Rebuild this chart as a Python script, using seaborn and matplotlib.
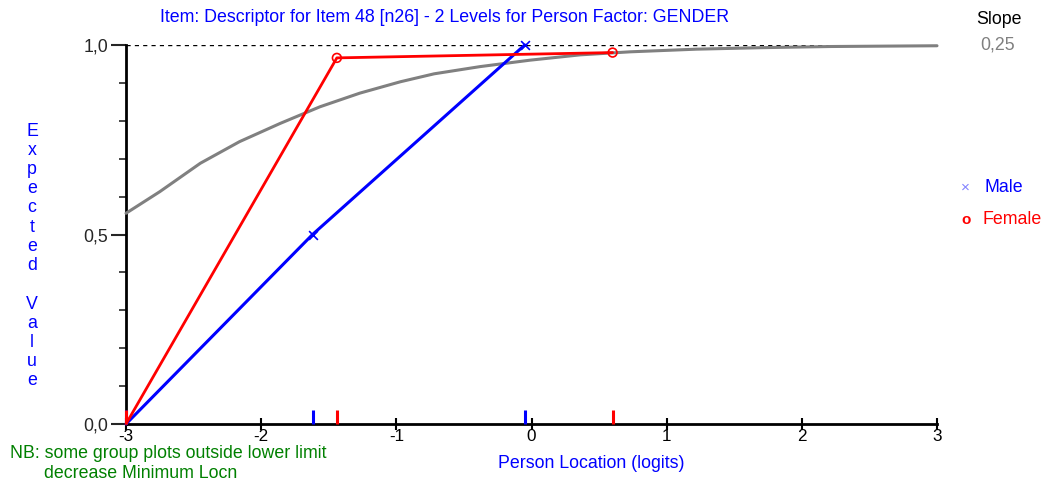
import numpy as np
import pandas as pd
import seaborn as sns
import matplotlib.pyplot as plt

# theoretical curve (grey)
gray_x = [-3.0, -2.75, -2.45, -2.16, -1.86, -1.565, -1.27, -0.97, -0.72,
          -0.38, -0.01, 0.36, 0.73, 1.22, 1.71, 2.21, 2.6, 3.0]
gray_y = [0.556, 0.613, 0.688, 0.745, 0.793, 0.837, 0.873, 0.903, 0.924,
          0.943, 0.960, 0.974, 0.982, 0.989, 0.993, 0.996, 0.997, 0.998]

# group observed means
male_x = [-3.0, -1.62, -0.05]
male_y = [0.0, 0.50, 1.00]
female_x = [-3.0, -1.44, 0.60]
female_y = [0.0, 0.966, 0.980]

# group location ticks on the x axis
male_rug = [-3.0, -1.62, -0.05]
female_rug = [-3.0, -1.44, 0.60]

x_ticks = [-3, -2, -1, 0, 1, 2, 3]
y_ticks = [0.0, 0.5, 1.0]
y_tick_labels = ['0,0', '0,5', '1,0']

BLUE = '#0000ff'
RED = '#ff0000'
GRAY = '#808080'
GREEN = '#008000'
FONT = 'Liberation Sans'
FS = 12.8

sns.set_style('white')
plt.rcParams['font.family'] = [FONT, 'DejaVu Sans']

fig = plt.figure(figsize=(10.46, 4.84), dpi=100)
ax = fig.add_axes([126 / 1046, 60 / 484, 811 / 1046, 379 / 484])

male = pd.DataFrame({'x': male_x, 'y': male_y})
female = pd.DataFrame({'x': female_x, 'y': female_y})
gray = pd.DataFrame({'x': gray_x, 'y': gray_y})

ax.axhline(1.0, color='black', linestyle=(0, (3, 3)), linewidth=1.0, zorder=1)
sns.lineplot(data=gray, x='x', y='y', color=GRAY, linewidth=2.2, sort=False,
             ax=ax, zorder=2, clip_on=False)
sns.lineplot(data=male, x='x', y='y', color=BLUE, linewidth=2.2, sort=False,
             ax=ax, zorder=3, clip_on=False)
sns.lineplot(data=female, x='x', y='y', color=RED, linewidth=2.0, sort=False,
             ax=ax, zorder=4, clip_on=False)
sns.scatterplot(data=male.iloc[1:], x='x', y='y', marker='x', color=BLUE,
                s=40, linewidth=1.2, ax=ax, zorder=5, clip_on=False)
sns.scatterplot(data=female.iloc[1:], x='x', y='y', marker='o', facecolor='none',
                edgecolor=RED, s=40, linewidth=1.2, ax=ax, zorder=5, clip_on=False)

for xv in male_rug:
    ax.plot([xv, xv], [0, 0.037], color=BLUE, linewidth=2.2, zorder=6,
            clip_on=False, solid_capstyle='butt')
for xv in female_rug:
    ax.plot([xv, xv], [0, 0.037], color=RED, linewidth=2.2, zorder=7,
            clip_on=False, solid_capstyle='butt')

ax.set_xlim(-3, 3)
ax.set_ylim(0, 1)
ax.set_xticks(x_ticks)
ax.set_xticklabels([str(t) for t in x_ticks])
ax.set_yticks(y_ticks)
ax.set_yticklabels(y_tick_labels)
ax.set_yticks(np.arange(0.1, 1.0, 0.1), minor=True)
ax.tick_params(axis='x', direction='inout', length=9, width=1.5, colors='black',
               labelsize=FS - 0.5, pad=-1, bottom=True)
ax.tick_params(axis='y', which='major', direction='out', length=11, width=1.5,
               labelsize=FS, pad=2, left=True)
ax.tick_params(axis='y', which='minor', direction='out', length=5, width=1.2,
               left=True)
ax.set_xlabel('')
ax.set_ylabel('')
for side in ['top', 'right']:
    ax.spines[side].set_visible(False)
for side in ['left', 'bottom']:
    ax.spines[side].set_linewidth(2.0)
    ax.spines[side].set_color('black')
    ax.spines[side].set_zorder(1)

fig.text(445 / 1046, 1 - 17 / 484,
         'Item: Descriptor for Item 48 [n26] - 2 Levels for Person Factor: GENDER',
         color=BLUE, fontsize=FS, ha='center', va='center')
fig.text(999 / 1046, 1 - 19 / 484, 'Slope', color='black', fontsize=FS,
         ha='center', va='center')
fig.text(998 / 1046, 1 - 45 / 484, '0,25', color=GRAY, fontsize=FS,
         ha='center', va='center')

fig.text(965 / 1046, 1 - 188 / 484, '\u00d7', color='#8080ff', fontsize=11,
         ha='center', va='center')
fig.text(984 / 1046, 1 - 188 / 484, 'Male', color=BLUE, fontsize=FS,
         ha='left', va='center')
fig.text(966 / 1046, 1 - 220 / 484, 'o', color=RED, fontsize=11,
         fontweight='bold', ha='center', va='center')
fig.text(983 / 1046, 1 - 220 / 484, 'Female', color=RED, fontsize=FS,
         ha='left', va='center')

fig.text(32 / 1046, 1 - 256 / 484, '\n'.join(list('Expected Value')),
         color=BLUE, fontsize=FS, ha='center', va='center', linespacing=1.17)
fig.text(591 / 1046, 1 - 464 / 484, 'Person Location (logits)', color=BLUE,
         fontsize=FS, ha='center', va='center')
fig.text(10 / 1046, 1 - 453 / 484, 'NB: some group plots outside lower limit',
         color=GREEN, fontsize=FS, ha='left', va='center')
fig.text(44 / 1046, 1 - 473 / 484, 'decrease Minimum Locn',
         color=GREEN, fontsize=FS, ha='left', va='center')

fig.savefig('out.png', dpi=100)
